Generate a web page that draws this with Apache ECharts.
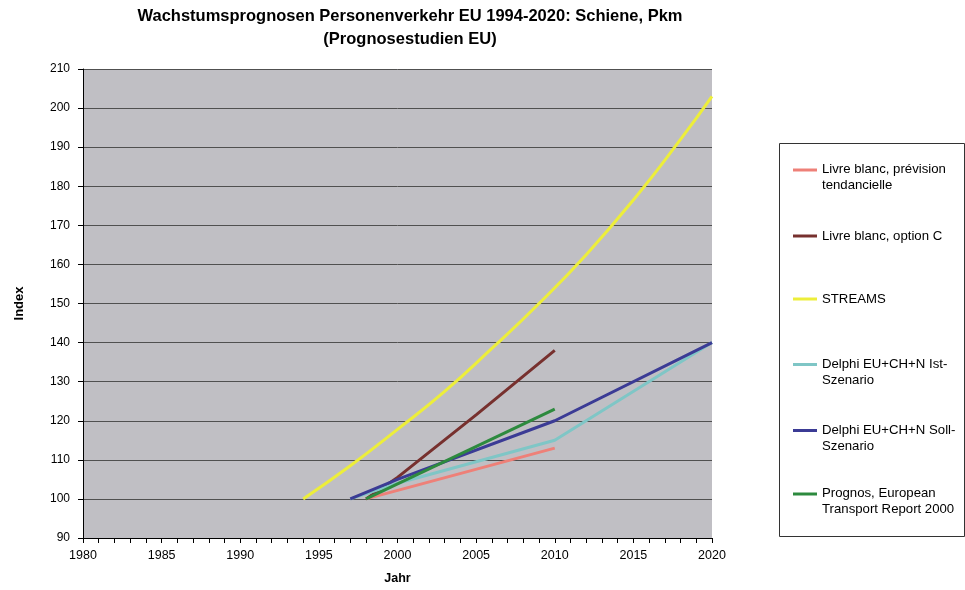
<!DOCTYPE html>
<html>
<head>
<meta charset="utf-8">
<script src="https://cdn.jsdelivr.net/npm/echarts@6/dist/echarts.min.js"></script>
<style>
  html, body { margin: 0; padding: 0; background: #fff; }
  #chart { width: 965px; height: 590px; }
</style>
</head>
<body>
<div id="chart"></div>
<script>
// Rail passenger-km growth forecasts, index (1994-2020)
const seriesNames = [
  'Livre blanc, prévision tendancielle',
  'Livre blanc, option C',
  'STREAMS',
  'Delphi EU+CH+N Ist-Szenario',
  'Delphi EU+CH+N Soll-Szenario',
  'Prognos, European Transport Report 2000'
];
const legendLabels = [
  'Livre blanc, prévision\ntendancielle',
  'Livre blanc, option C',
  'STREAMS',
  'Delphi EU+CH+N Ist-\nSzenario',
  'Delphi EU+CH+N Soll-\nSzenario',
  'Prognos, European\nTransport Report 2000'
];
const seriesColors = ['#EE8078', '#77302E', '#EDEE3A', '#7FC6C6', '#3B3B95', '#2D8A3E'];

const livreTendYears = [1998, 2010];
const livreTendVals = [100, 113];
const livreCYears = [1998, 2000, 2005, 2010];
const livreCVals = [100, 105.5, 121.5, 138];
const streamsYears = [1994, 1997, 2000, 2003, 2006, 2009, 2012, 2015, 2018, 2020];
const streamsVals = [100, 108.5, 117.8, 127.5, 138.5, 150, 162.5, 176.5, 192, 203];
const delphiIstYears = [1997, 2000, 2010, 2020];
const delphiIstVals = [100, 104, 115, 140];
const delphiSollYears = [1997, 2000, 2010, 2020];
const delphiSollVals = [100, 105, 120, 140];
const prognosYears = [1998, 2010];
const prognosVals = [100, 123];

const yearLists = [livreTendYears, livreCYears, streamsYears, delphiIstYears, delphiSollYears, prognosYears];
const valueLists = [livreTendVals, livreCVals, streamsVals, delphiIstVals, delphiSollVals, prognosVals];
const smoothFlags = [false, false, true, false, false, false];

const xMin = 1980, xMax = 2020, xStep = 5;
const yMin = 90, yMax = 210, yStep = 10;

const font = '"Liberation Sans", Arial, sans-serif';

const series = seriesNames.map((name, i) => ({
  name: name,
  type: 'line',
  data: yearLists[i].map((y, k) => [y, valueLists[i][k]]),
  smooth: smoothFlags[i],
  showSymbol: false,
  symbol: 'none',
  lineStyle: { color: seriesColors[i], width: 3 },
  itemStyle: { color: seriesColors[i] },
  emphasis: { disabled: true },
  animation: false
}));

// swatch at the first text line for two-line entries, centered otherwise
const iconTop = 'path://M0,0h24v3h-24zM0,18';
const iconMid = 'path://M0,0M0,7.5h24v3h-24zM0,18';
const legendTops = [161.5, 227, 290, 356, 422, 485.5];

const legends = seriesNames.map((name, i) => ({
  show: true,
  orient: 'vertical',
  left: 793,
  top: legendTops[i],
  padding: 0,
  itemWidth: 24,
  itemHeight: 18,
  itemGap: 0,
  selectedMode: false,
  itemStyle: { borderWidth: 0 },
  data: [{ name: name, icon: legendLabels[i].indexOf('\n') >= 0 ? iconTop : iconMid }],
  formatter: () => legendLabels[i],
  textStyle: { fontFamily: font, fontSize: 13.2, color: '#000', lineHeight: 16 }
}));

const chart = echarts.init(document.getElementById('chart'), null, { renderer: 'canvas' });
chart.setOption({
  backgroundColor: '#fff',
  animation: false,
  title: {
    text: 'Wachstumsprognosen Personenverkehr EU 1994-2020: Schiene, Pkm\n(Prognosestudien EU)',
    left: 410,
    top: 5,
    padding: 0,
    textAlign: 'center',
    textStyle: { fontFamily: font, fontSize: 16.5, fontWeight: 'bold', color: '#000', lineHeight: 23 }
  },
  legend: legends,
  graphic: [{
    type: 'rect',
    shape: { x: 779.5, y: 143.5, width: 185, height: 393 },
    style: { fill: 'none', stroke: '#333', lineWidth: 1 },
    silent: true
  }],
  grid: {
    left: 83, right: 253, top: 69, bottom: 49,
    show: true, backgroundColor: '#C0BFC4', borderWidth: 0
  },
  xAxis: {
    type: 'value',
    min: xMin, max: xMax, interval: xStep,
    name: 'Jahr',
    nameLocation: 'middle',
    nameGap: 34,
    nameTextStyle: { fontFamily: font, fontSize: 12.5, fontWeight: 'bold', color: '#000' },
    axisLine: { show: true, onZero: false, lineStyle: { color: '#000', width: 1 } },
    axisTick: { show: true, inside: false, length: 5, lineStyle: { color: '#000' } },
    minorTick: { show: true, splitNumber: 5, length: 5, lineStyle: { color: '#000' } },
    axisLabel: { fontFamily: font, fontSize: 12.5, color: '#000', margin: 11, formatter: v => String(v) },
    splitLine: { show: false }
  },
  yAxis: {
    type: 'value',
    min: yMin, max: yMax, interval: yStep,
    name: 'Index',
    nameLocation: 'middle',
    nameGap: 57,
    nameTextStyle: { fontFamily: font, fontSize: 13, fontWeight: 'bold', color: '#000' },
    axisLine: { show: true, lineStyle: { color: '#000', width: 1 } },
    axisTick: { show: true, inside: false, length: 5, lineStyle: { color: '#000' } },
    axisLabel: { fontFamily: font, fontSize: 12, color: '#000', margin: 13 },
    splitLine: { show: true, lineStyle: { color: '#505050', width: 1 } }
  },
  series: series
});
</script>
</body>
</html>
